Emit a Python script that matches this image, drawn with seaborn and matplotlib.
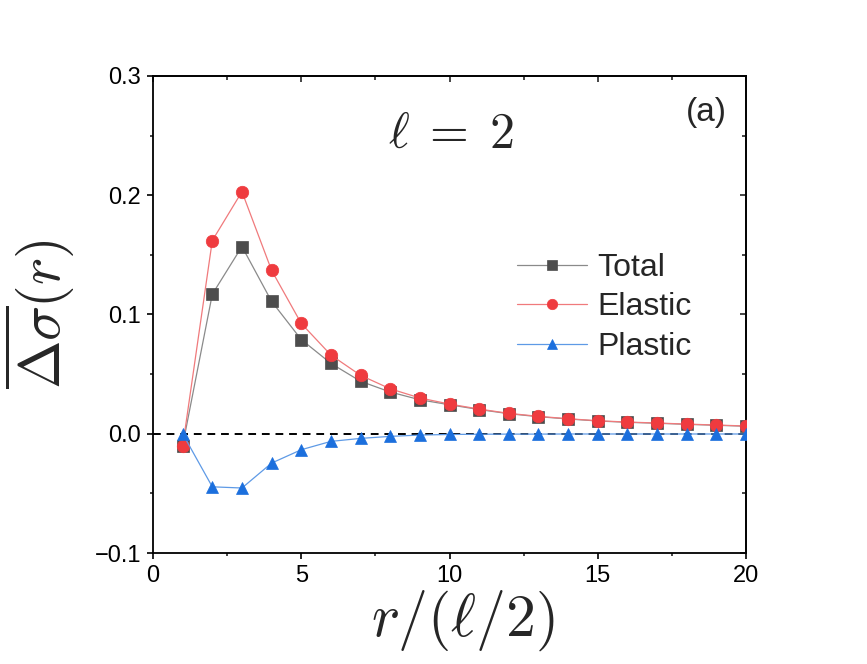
import numpy as np
import pandas as pd
import matplotlib
matplotlib.use("Agg")
import matplotlib.pyplot as plt
import seaborn as sns
from matplotlib.ticker import MultipleLocator, FuncFormatter

r = list(range(1, 21))
total = [-0.010, 0.117, 0.157, 0.111, 0.079, 0.059, 0.044, 0.035, 0.0285, 0.0243,
         0.0203, 0.0168, 0.0143, 0.0124, 0.0107, 0.0096, 0.0088, 0.0079, 0.0071, 0.0063]
elastic = [-0.0106, 0.162, 0.203, 0.137, 0.0925, 0.066, 0.049, 0.0377, 0.030, 0.0249,
           0.0207, 0.0171, 0.0146, 0.0126, 0.0109, 0.0098, 0.0090, 0.0081, 0.0073, 0.0065]
plastic = [0.0, -0.0445, -0.0455, -0.0246, -0.0134, -0.0064, -0.0039, -0.0022, -0.0011, -0.0006,
           -0.0004, -0.0003, -0.0003, -0.0002, -0.0002, -0.0002, -0.0002, -0.0002, -0.0002, -0.0002]
labels = ["Total", "Elastic", "Plastic"]

sns.set_style("ticks")
plt.rcParams['font.family'] = ['Liberation Sans', 'DejaVu Sans']
plt.rcParams['mathtext.fontset'] = 'cm'

fig = plt.figure(figsize=(8.67, 6.64), dpi=100)
ax = fig.add_axes([153/867, 1-553/664, (746-153)/867, (553-76)/664])

ax.axhline(0, color='black', ls=(0, (4, 3)), lw=1.4, zorder=1)

styles = [
    (total, 's', '#4d4d4d', '#8a8a8a', 8.5),
    (elastic, 'o', '#ef3b3f', '#f07a7c', 9),
    (plastic, '^', '#1b6fdd', '#5e9ae6', 9),
]
for (vals, mk, mcol, lcol, ms), lab in zip(styles, labels):
    df = pd.DataFrame({"r": r, "v": vals})
    sns.lineplot(data=df, x="r", y="v", ax=ax, color=lcol, lw=0.9, marker=mk,
                 markersize=ms, markerfacecolor=mcol, markeredgecolor=mcol,
                 markeredgewidth=0.5, label=lab, zorder=3)

ax.set_xlim(0, 20)
ax.set_ylim(-0.1, 0.3)
ax.xaxis.set_major_locator(MultipleLocator(5))
ax.xaxis.set_minor_locator(MultipleLocator(2.5))
ax.yaxis.set_major_locator(MultipleLocator(0.1))
ax.yaxis.set_minor_locator(MultipleLocator(0.05))
ax.yaxis.set_major_formatter(FuncFormatter(lambda v, p: ('%.1f' % v).replace('-', '\u2212')))
ax.tick_params(which='major', direction='out', length=4.5, width=1.2, labelsize=17,
               colors='black', pad=4)
ax.tick_params(which='minor', direction='out', length=2.5, width=1.2)
ax.tick_params(axis='x', which='both', top=False)
ax.tick_params(axis='y', which='both', right=False)
for s in ax.spines.values():
    s.set_linewidth(1.3)
    s.set_color('black')

ax2x = ax.secondary_xaxis('top')
ax2x.xaxis.set_major_locator(MultipleLocator(5))
ax2x.xaxis.set_minor_locator(MultipleLocator(2.5))
ax2x.tick_params(which='major', direction='in', length=4.5, width=1.2, labeltop=False)
ax2x.tick_params(which='minor', direction='in', length=3, width=1.2)
ax2y = ax.secondary_yaxis('right')
ax2y.yaxis.set_major_locator(MultipleLocator(0.1))
ax2y.yaxis.set_minor_locator(MultipleLocator(0.05))
ax2y.tick_params(which='major', direction='in', length=4.5, width=1.2, labelright=False)
ax2y.tick_params(which='minor', direction='in', length=3, width=1.2)
for sec in (ax2x, ax2y):
    for s in sec.spines.values():
        s.set_linewidth(1.3)

ax.set_xlabel(r'$r/(\ell/2)$', fontsize=43)
ax.set_ylabel(r'$\overline{\Delta\sigma}(r)$', fontsize=42)
ax.xaxis.set_label_coords(0.523, -0.075)
ax.yaxis.set_label_coords(-0.13, 0.5)

ax.text(0.503, 0.849, r'$\ell\;=\;2$', transform=ax.transAxes, fontsize=36,
        ha='center', va='baseline')
ax.text(0.934, 0.9245, '(a)', transform=ax.transAxes, fontsize=24,
        ha='center', va='center')

leg = ax.legend(loc='center left', bbox_to_anchor=(0.614, 0.515), frameon=False,
                fontsize=23, handlelength=2.2, handletextpad=0.3, labelspacing=0.3,
                borderaxespad=0, borderpad=0)
for h in leg.legend_handles:
    h.set_markersize(7.5)

fig.savefig("out.png", dpi=100)
